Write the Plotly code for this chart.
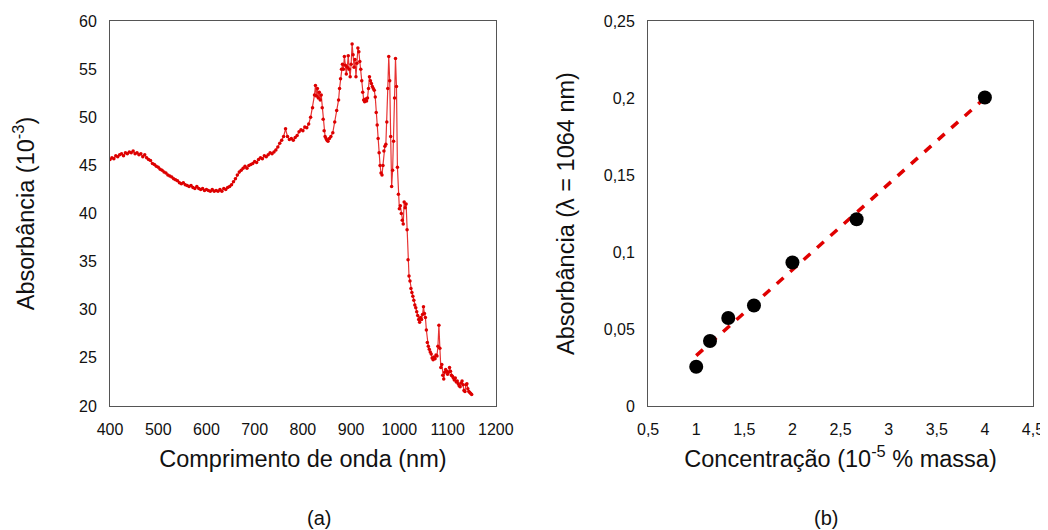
import numpy as np
import plotly.graph_objects as go

# (a) espectro de absorção
comprimento = [400, 404, 408, 412, 416, 420, 424, 428, 432, 436, 440, 444, 448, 452, 456, 460, 464, 468, 472, 476,
               480, 484, 488, 492, 496, 500, 504, 508, 512, 516, 520, 524, 528, 532, 536, 540, 544, 548, 552, 556,
               560, 564, 568, 572, 576, 580, 584, 588, 592, 596, 600, 604, 608, 612, 616, 620, 624, 628, 632, 636,
               640, 644, 648, 652, 656, 660, 664, 668, 672, 676, 680, 684, 688, 692, 696, 700, 704, 708, 712, 716,
               720, 724, 728, 732, 736, 740, 744, 748, 752, 756, 760, 764, 768, 772, 776, 780, 784, 788, 792, 796,
               800, 804, 808, 812, 816, 820, 824, 826, 828, 830, 832, 834, 836, 838, 840, 842, 844, 846, 848, 850,
               852, 855, 858, 862, 866, 870, 874, 876, 878, 880, 882, 884, 886, 888, 890, 892, 894, 896, 898, 900,
               902, 904, 906, 908, 910, 912, 914, 916, 918, 920, 922, 924, 926, 928, 930, 932, 934, 936, 938, 940,
               942, 944, 946, 948, 950, 952, 954, 956, 958, 960, 962, 964, 966, 968, 970, 972, 974, 976, 978, 980,
               982, 984, 986, 988, 990, 992, 994, 996, 998, 1000, 1002, 1004, 1006, 1008, 1010, 1012, 1014, 1016, 1018, 1020,
               1022, 1024, 1026, 1028, 1030, 1032, 1034, 1036, 1038, 1040, 1042, 1044, 1046, 1048, 1050, 1052, 1054, 1056, 1058, 1060,
               1062, 1064, 1066, 1068, 1070, 1072, 1074, 1076, 1078, 1080, 1082, 1084, 1086, 1088, 1090, 1092, 1094, 1096, 1098, 1100,
               1102, 1104, 1106, 1108, 1110, 1112, 1114, 1116, 1118, 1120, 1122, 1124, 1126, 1128, 1130, 1132, 1134, 1136, 1138, 1140,
               1142, 1144, 1146, 1148, 1150]
absorbancia = [45.6, 45.8, 45.7, 46.0, 45.9, 46.1, 46.2, 46.0, 46.3, 46.2, 46.4, 46.3, 46.5, 46.2, 46.3, 46.1, 46.2, 45.9, 46.1, 45.8,
               45.6, 45.5, 45.2, 45.1, 44.9, 44.8, 44.6, 44.5, 44.3, 44.2, 44.0, 43.9, 43.8, 43.6, 43.5, 43.4, 43.2, 43.1, 43.2, 43.0,
               42.9, 42.8, 42.9, 42.7, 42.6, 42.8, 42.6, 42.5, 42.6, 42.4, 42.5, 42.4, 42.3, 42.5, 42.3, 42.4, 42.3, 42.5, 42.3, 42.6,
               42.5, 42.7, 42.8, 43.0, 43.3, 43.6, 44.0, 44.3, 44.5, 44.7, 44.9, 44.7, 45.0, 45.1, 45.2, 45.4, 45.3, 45.6, 45.8, 45.7,
               46.0, 45.9, 46.1, 46.3, 46.2, 46.4, 46.6, 46.9, 47.3, 47.6, 48.0, 48.8, 48.0, 47.7, 47.8, 47.6, 47.9, 48.1, 48.5, 48.7,
               48.6, 49.0, 48.9, 49.3, 50.0, 51.0, 52.3, 53.3, 52.2, 53.0, 52.0, 52.6, 51.8, 52.3, 51.0, 49.8, 48.6, 48.0, 47.8, 47.6,
               47.5, 47.8, 48.0, 48.4, 49.5, 50.7, 51.8, 53.0, 54.0, 55.0, 55.5, 55.0, 56.3, 55.4, 54.5, 55.2, 56.4, 55.0, 54.2, 55.5,
               57.6, 56.5, 55.2, 56.0, 54.2, 55.6, 57.2, 56.8, 55.8, 55.0, 53.8, 52.6, 51.8, 51.6, 51.9, 51.7, 52.0, 53.0, 54.2, 53.8,
               53.5, 53.2, 53.0, 52.8, 52.1, 50.5, 49.2, 47.8, 46.3, 45.0, 44.2, 44.0, 45.0, 46.5, 47.0, 47.2, 49.5, 53.0, 56.3, 53.8,
               48.0, 42.8, 44.5, 47.5, 52.0, 56.1, 53.2, 44.8, 42.0, 40.5, 40.8, 40.0, 39.3, 38.9, 41.2, 40.6, 41.0, 38.3, 35.2, 33.5,
               33.0, 32.2, 31.8, 31.4, 31.0, 30.5, 30.2, 29.8, 29.4, 29.0, 28.7, 29.2, 29.0, 29.5, 30.3, 29.6, 29.2, 27.9, 26.6, 26.2,
               25.9, 25.6, 25.4, 25.0, 24.8, 25.1, 24.9, 25.3, 25.2, 26.2, 28.4, 26.0, 24.0, 24.3, 23.2, 22.8, 23.5, 23.8, 23.6, 23.3,
               23.5, 24.0, 23.6, 23.2, 23.1, 22.9, 22.7, 22.9, 22.5, 22.6, 22.3, 22.1, 22.0, 22.4, 22.6, 22.2, 21.6, 21.5, 22.2, 22.3,
               21.8, 21.5, 21.4, 21.3, 21.2]

# (b) curva de calibração
concentracao = [1.0, 1.143, 1.333, 1.6, 2.0, 2.667, 4.0]
absorb_1064 = [0.0255, 0.0422, 0.0571, 0.0653, 0.0932, 0.1213, 0.2003]

# reta ajustada (mínimos quadrados)
coef = np.polyfit(concentracao, absorb_1064, 1)
x_fit = [min(concentracao), max(concentracao)]
y_fit = [coef[0] * v + coef[1] for v in x_fit]

FONT = "Liberation Sans, Arial, sans-serif"
fig = go.Figure()

fig.add_trace(go.Scatter(
    x=comprimento, y=absorbancia, mode="lines+markers",
    line=dict(color="rgba(225,0,0,0.8)", width=1.2),
    marker=dict(color="#dd0000", size=3.5),
    xaxis="x", yaxis="y", showlegend=False))

fig.add_trace(go.Scatter(
    x=x_fit, y=y_fit, mode="lines",
    line=dict(color="#e00000", width=3.5, dash="9px,9px"),
    xaxis="x2", yaxis="y2", showlegend=False))
fig.add_trace(go.Scatter(
    x=concentracao, y=absorb_1064, mode="markers",
    marker=dict(color="black", size=14),
    xaxis="x2", yaxis="y2", showlegend=False))

eixo = dict(showgrid=False, zeroline=False, showline=True, mirror=True, automargin=False,
            linecolor="#555555", linewidth=1, ticks="", ticklabelstandoff=9,
            tickfont=dict(size=16, color="#111111"))

# a página tem margem de 8 px: a figura fica deslocada
fig.update_layout(
    width=1040, height=522,
    margin=dict(l=102, r=15, t=13, b=124),
    paper_bgcolor="white", plot_bgcolor="white",
    font=dict(family=FONT, color="#111111"),
    separators=", ",
    xaxis=dict(eixo, domain=[0, 0.418], anchor="y", range=[400, 1200], dtick=100,
               title=dict(text="Comprimento de onda (nm)", font=dict(size=23.5), standoff=13)),
    yaxis=dict(eixo, domain=[0, 1], anchor="x", range=[20, 60], dtick=5,
               title=dict(text="Absorbância (10<sup>-3</sup>)", font=dict(size=23.5), standoff=37)),
    xaxis2=dict(eixo, domain=[0.583, 1], anchor="y2", range=[0.5, 4.5], dtick=0.5,
                title=dict(text="Concentração (10<sup>-5</sup> % massa)", font=dict(size=23.5), standoff=13)),
    yaxis2=dict(eixo, domain=[0, 1], anchor="x2", range=[0, 0.25], dtick=0.05,
                title=dict(text="Absorbância (λ = 1064 nm)", font=dict(size=23.5), standoff=22)),
    annotations=[
        dict(text="(a)", x=0.2113, y=-0.291, xref="paper", yref="paper",
             yanchor="middle", showarrow=False, font=dict(size=20)),
        dict(text="(b)", x=0.791, y=-0.291, xref="paper", yref="paper",
             yanchor="middle", showarrow=False, font=dict(size=20)),
    ],
)

fig.write_html("out.html")
